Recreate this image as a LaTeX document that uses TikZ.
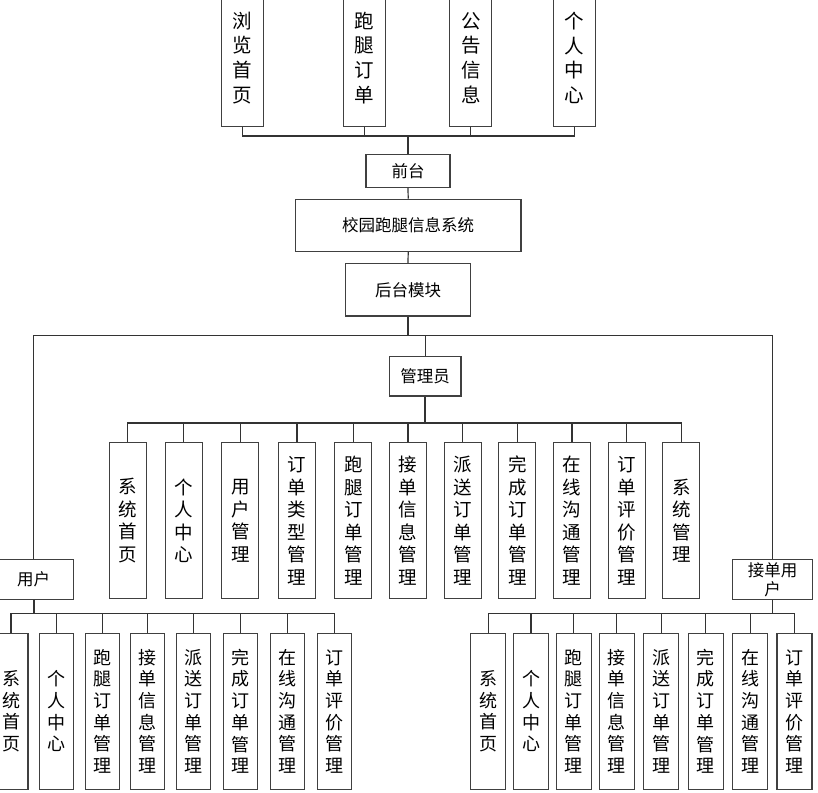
\documentclass[tikz,border=0pt]{standalone}
\usepackage{fontspec}
\setmainfont{Noto Sans CJK SC}
\begin{document}
\begin{tikzpicture}[x=1pt,y=-1pt,
  box/.style={draw=boxc,line width=1.2pt,fill=white,inner sep=0pt,align=center},
  topbox/.style={box,minimum width=42pt,minimum height=137pt,font=\fontsize{19.5}{24.7}\selectfont},
  admbox/.style={box,minimum width=37pt,minimum height=156pt,font=\fontsize{18.5}{22.5}\selectfont},
  usrbox/.style={box,minimum width=34pt,minimum height=156pt,font=\fontsize{18}{21.7}\selectfont},
  rcvbox/.style={box,minimum width=35pt,minimum height=156pt,font=\fontsize{18}{21.7}\selectfont},
  hbox/.style={box,font=\fontsize{16.5}{19}\selectfont},
  conn/.style={draw=linec,line width=1.2pt},
  trunk/.style={draw=linec,line width=1.8pt}]
\definecolor{boxc}{HTML}{404040}
\definecolor{linec}{HTML}{333333}
\useasboundingbox (0,0) rectangle (818,792);
% top row
\node[topbox] (t1) at (242.5,57.8) {浏\\览\\首\\页};
\node[topbox] (t2) at (364.3,57.8) {跑\\腿\\订\\单};
\node[topbox] (t3) at (470.8,57.8) {公\\告\\信\\息};
\node[topbox] (t4) at (574.3,57.8) {个\\人\\中\\心};
% main column
\node[hbox,minimum width=84pt,minimum height=33pt] (qt) at (408,170.8) {前台};
\node[hbox,minimum width=225.7pt,minimum height=52pt] (xt) at (408.2,225.3) {校园跑腿信息系统};
\node[hbox,minimum width=125.4pt,minimum height=52.3pt] (ht) at (408,289.8) {后台模块};
\node[hbox,minimum width=71.7pt,minimum height=39.3pt] (gl) at (425.2,376.3) {管理员};
\node[hbox,minimum width=80pt,minimum height=39.6pt] (yh) at (33.7,579.5) {用户};
\node[hbox,minimum width=79.6pt,minimum height=39.6pt,text width=60pt] (jd) at (772.5,579.5) {接单用\\户};
% admin children
\foreach \x/\t [count=\i] in {127.7/系\\统\\首\\页, 183.8/个\\人\\中\\心, 240.3/用\\户\\管\\理,
  297/订\\单\\类\\型\\管\\理, 353.3/跑\\腿\\订\\单\\管\\理, 408/接\\单\\信\\息\\管\\理,
  462.8/派\\送\\订\\单\\管\\理, 517.3/完\\成\\订\\单\\管\\理, 572/在\\线\\沟\\通\\管\\理,
  626.8/订\\单\\评\\价\\管\\理, 681.3/系\\统\\管\\理}
  \node[admbox] (a\i) at (\x,520.7) {\t};
% user children
\foreach \x/\t [count=\i] in {11/系\\统\\首\\页, 56.7/个\\人\\中\\心, 102.3/跑\\腿\\订\\单\\管\\理,
  147.8/接\\单\\信\\息\\管\\理, 193.6/派\\送\\订\\单\\管\\理, 240.3/完\\成\\订\\单\\管\\理,
  287.2/在\\线\\沟\\通\\管\\理, 334.4/订\\单\\评\\价\\管\\理}
  \node[usrbox] (u\i) at (\x,711.3) {\t};
% receiver children
\foreach \x/\t [count=\i] in {488.3/系\\统\\首\\页, 531/个\\人\\中\\心, 573.7/跑\\腿\\订\\单\\管\\理,
  616.8/接\\单\\信\\息\\管\\理, 661.3/派\\送\\订\\单\\管\\理, 705.8/完\\成\\订\\单\\管\\理,
  750.3/在\\线\\沟\\通\\管\\理, 794.5/订\\单\\评\\价\\管\\理}
  \node[rcvbox] (r\i) at (\x,711.3) {\t};
% bus coordinates
\coordinate (tb) at (408,136);
\coordinate (bk) at (408,335.7);
\coordinate (ab) at (425.2,423);
\coordinate (ub) at (33.7,613.3);
\coordinate (rb) at (772.5,613.3);
% connectors
\foreach \i in {1,...,4} \draw[conn] (t\i.south) |- (tb);
\draw[trunk] (tb) -- (qt.north);
\draw[conn] (qt.south) -- (xt.north);
\draw[conn] (xt.south) -- (ht.north);
\draw[trunk] (ht.south) -- (bk);
\draw[conn] (yh.north) |- (bk) -| (jd.north);
\draw[conn] (gl.north) |- (bk);
\draw[trunk] (gl.south) -- (ab);
\foreach \i in {1,...,11} \draw[conn] (a\i.north) |- (ab);
\draw[trunk] (yh.south) -- (ub);
\foreach \i in {1,...,8} \draw[conn] (u\i.north) |- (ub);
\draw[conn] (jd.south) -- (rb);
\foreach \i in {1,...,8} \draw[conn] (r\i.north) |- (rb);
\end{tikzpicture}
\end{document}
